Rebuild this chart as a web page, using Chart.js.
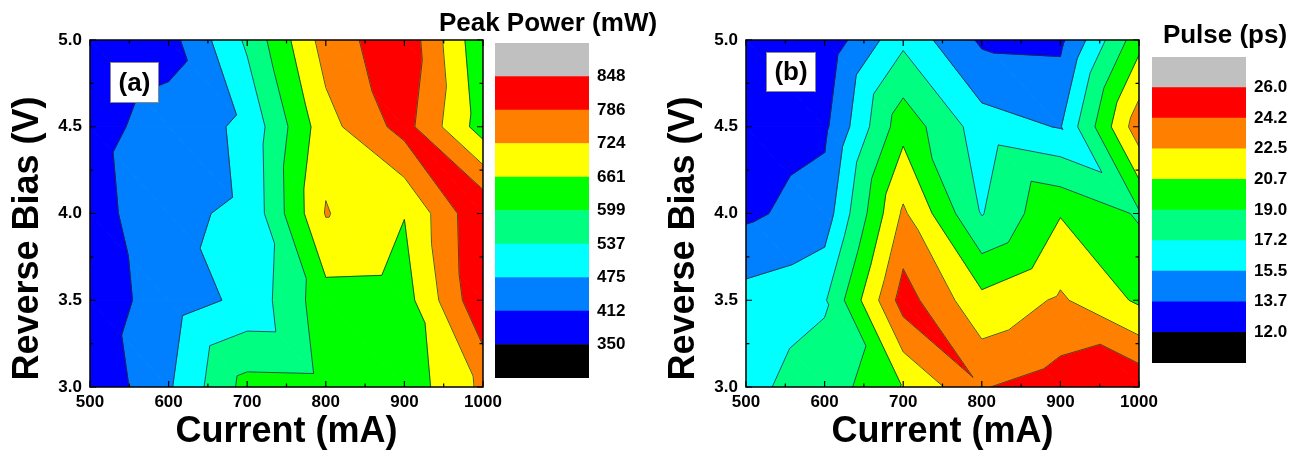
<!DOCTYPE html>
<html><head><meta charset="utf-8">
<script src="https://cdn.jsdelivr.net/npm/chart.js@4.4.1/dist/chart.umd.min.js"></script>
<style>
html,body{margin:0;padding:0;background:#fff;}
#wrap{position:relative;width:1301px;height:457px;overflow:hidden;background:#fff;}
canvas{position:absolute;top:0;}
</style></head><body>
<div id="wrap">
<canvas id="cA" width="520" height="457" style="left:0px"></canvas>
<canvas id="barA" width="245" height="457" style="left:425px"></canvas>
<canvas id="cB" width="520" height="457" style="left:656px"></canvas>
<canvas id="barB" width="201" height="457" style="left:1100px"></canvas>
</div>
<script>
// ---- grid axes ----
const currents = [500, 600, 700, 800, 900, 1000];
const biases = [3.0, 3.5, 4.0, 4.5, 5.0];
const currentTickLabels = ['500', '600', '700', '800', '900', '1000'];
const biasTickLabels = ['3.0', '3.5', '4.0', '4.5', '5.0'];

// ---- (a) peak power (mW), one row per reverse bias ----
const power3p0 = [358, 467, 622, 619, 623, 737];
const power3p5 = [375, 443.5, 490, 637, 634, 840];
const power4p0 = [382, 465, 483.5, 728, 663, 845];
const power4p5 = [390, 438, 488.7, 701, 810, 630];
const power5p0 = [370, 388, 548, 752, 832, 610];

// ---- (b) pulse width (ps), one row per reverse bias ----
const pulse3p0 = [16.8, 18.0, 20.8, 24.1, 25.0, 25.6];
const pulse3p5 = [16.2, 17.0, 25.0, 21.2, 22.76, 20.4];
const pulse4p0 = [13.35, 14.55, 22.8, 17.1, 20.6, 18.8];
const pulse4p5 = [12.6, 13.34, 20.1, 16.3, 15.4, 23.6];
const pulse5p0 = [12.3, 12.4, 16.8, 13.4, 13.3, 20.1];

// ---- contour levels / colour scale ----
const powerLevels = [350, 412, 475, 537, 599, 661, 724, 786, 848];
const powerLevelLabels = ['350', '412', '475', '537', '599', '661', '724', '786', '848'];
const pulseLevels = [12.0, 13.7, 15.5, 17.2, 19.0, 20.7, 22.5, 24.2, 26.0];
const pulseLevelLabels = ['12.0', '13.7', '15.5', '17.2', '19.0', '20.7', '22.5', '24.2', '26.0'];
const bandColors = ['#000000', '#0000FF', '#0080FF', '#00FFFF', '#00FF80', '#00FF00', '#FFFF00', '#FF8000', '#FF0000', '#C0C0C0'];

const powerGrid = [power3p0, power3p5, power4p0, power4p5, power5p0];
const pulseGrid = [pulse3p0, pulse3p5, pulse4p0, pulse4p5, pulse5p0];

Chart.defaults.font.family = '"Liberation Sans", Arial, Helvetica, sans-serif';
Chart.defaults.color = '#000';

function triangles(grid) {
  const tris = [];
  for (let j = 0; j < biases.length - 1; j++) {
    for (let i = 0; i < currents.length - 1; i++) {
      const p00 = {x: currents[i], y: biases[j], v: grid[j][i]};
      const p10 = {x: currents[i + 1], y: biases[j], v: grid[j][i + 1]};
      const p01 = {x: currents[i], y: biases[j + 1], v: grid[j + 1][i]};
      const p11 = {x: currents[i + 1], y: biases[j + 1], v: grid[j + 1][i + 1]};
      tris.push([p00, p10, p01]);
      tris.push([p10, p11, p01]);
    }
  }
  return tris;
}
function clipPoly(poly, level, keepAbove) {
  const out = [];
  const n = poly.length;
  for (let k = 0; k < n; k++) {
    const a = poly[k], b = poly[(k + 1) % n];
    const ain = keepAbove ? a.v >= level : a.v <= level;
    const bin = keepAbove ? b.v >= level : b.v <= level;
    if (ain) out.push(a);
    if (ain !== bin) {
      const t = (level - a.v) / (b.v - a.v);
      out.push({x: a.x + t * (b.x - a.x), y: a.y + t * (b.y - a.y), v: level});
    }
  }
  return out;
}
function bandDatasets(grid, levels) {
  const tris = triangles(grid);
  const sets = [];
  for (let k = 0; k <= levels.length; k++) {
    const data = [];
    for (const t of tris) {
      let p = t;
      if (k > 0) p = clipPoly(p, levels[k - 1], true);
      if (p.length >= 3 && k < levels.length) p = clipPoly(p, levels[k], false);
      if (p.length >= 3) {
        for (const q of p) data.push({x: q.x, y: q.y});
        data.push({x: p[0].x, y: p[0].y});
        data.push({x: p[0].x, y: null});
      }
    }
    if (data.length) {
      sets.push({data, showLine: true, fill: 'shape', backgroundColor: bandColors[k], borderColor: bandColors[k],
        borderWidth: 1, pointRadius: 0, tension: 0, spanGaps: false, order: 1});
    }
  }
  return sets;
}
function contourLineData(grid, levels) {
  const tris = triangles(grid);
  const data = [];
  for (const L of levels) {
    for (const t of tris) {
      const pts = [];
      for (let k = 0; k < 3; k++) {
        const a = t[k], b = t[(k + 1) % 3];
        if ((a.v >= L) !== (b.v >= L)) {
          const s = (L - a.v) / (b.v - a.v);
          pts.push({x: a.x + s * (b.x - a.x), y: a.y + s * (b.y - a.y)});
        }
      }
      if (pts.length === 2) data.push(pts[0], pts[1], {x: pts[1].x, y: null});
    }
  }
  return data;
}

const frameTicks = {
  id: 'frameTicks',
  afterDatasetsDraw(chart, args, o) {
    const {ctx, chartArea: a, scales: {x, y}} = chart;
    const isMajor = (v, m) => Math.abs(v / m - Math.round(v / m)) < 1e-6;
    ctx.save();
    ctx.strokeStyle = '#000';
    ctx.lineWidth = 1.2;
    ctx.beginPath();
    for (let v = x.min; v <= x.max + 1e-9; v += o.xMinor) {
      const px = x.getPixelForValue(v);
      const len = isMajor(v, o.xMajor) ? 6 : 3.5;
      ctx.moveTo(px, a.bottom); ctx.lineTo(px, a.bottom - len);
      ctx.moveTo(px, a.top); ctx.lineTo(px, a.top + len);
    }
    for (let v = y.min; v <= y.max + 1e-9; v += o.yMinor) {
      const py = y.getPixelForValue(v);
      const len = isMajor(v, o.yMajor) ? 6 : 3.5;
      ctx.moveTo(a.left, py); ctx.lineTo(a.left + len, py);
      ctx.moveTo(a.right, py); ctx.lineTo(a.right - len, py);
    }
    ctx.stroke();
    ctx.lineWidth = 1.5;
    ctx.strokeRect(a.left, a.top, a.right - a.left, a.bottom - a.top);
    ctx.restore();
  }
};
const panelTag = {
  id: 'panelTag',
  afterDatasetsDraw(chart, args, o) {
    const {ctx, chartArea: a} = chart;
    const x = a.left + o.dx, y = a.top + o.dy;
    ctx.save();
    ctx.fillStyle = '#fff';
    ctx.fillRect(x, y, o.w, o.h);
    ctx.strokeStyle = '#888';
    ctx.lineWidth = 1;
    ctx.strokeRect(x + 0.5, y + 0.5, o.w - 1, o.h - 1);
    ctx.fillStyle = '#000';
    ctx.font = 'bold 26px "Liberation Sans", Arial, sans-serif';
    ctx.textAlign = 'center';
    ctx.textBaseline = 'middle';
    ctx.fillText(o.text, x + o.w / 2, y + o.h / 2 + 1);
    ctx.restore();
  }
};
const heading = {
  id: 'heading',
  afterDraw(chart, args, o) {
    const {ctx, chartArea: a} = chart;
    ctx.save();
    ctx.fillStyle = '#000';
    ctx.font = 'bold 26px "Liberation Sans", Arial, sans-serif';
    ctx.textAlign = 'center';
    ctx.textBaseline = 'alphabetic';
    ctx.fillText(o.text, a.left + o.dx, o.baseline);
    ctx.restore();
  }
};

function contourChart(id, grid, levels, tag) {
  return new Chart(document.getElementById(id), {
    type: 'scatter',
    data: {
      datasets: [
        {data: contourLineData(grid, levels), showLine: true, borderColor: '#2b2b2b', borderWidth: 0.8,
          pointRadius: 0, fill: false, tension: 0, spanGaps: false, order: 0},
        ...bandDatasets(grid, levels)
      ]
    },
    options: {
      responsive: false, animation: false, events: [],
      layout: {padding: {left: 0, top: 40, right: 37, bottom: 0}},
      plugins: {
        legend: {display: false}, tooltip: {enabled: false},
        frameTicks: {xMinor: 50, xMajor: 100, yMinor: 0.25, yMajor: 0.5},
        panelTag: tag
      },
      scales: {
        x: {
          type: 'linear', min: 500, max: 1000,
          ticks: {stepSize: 100, autoSkip: false, maxRotation: 0, padding: 5,
            font: {size: 17, weight: 'bold'}, color: '#000',
            callback: (v, i) => currentTickLabels[i]},
          grid: {display: false, drawTicks: false}, border: {display: false},
          title: {display: true, text: 'Current (mA)', color: '#000', font: {size: 36, weight: 'bold'}, padding: {top: 0, bottom: 3}},
          afterFit(s) { s.height = 70; }
        },
        y: {
          type: 'linear', min: 3, max: 5,
          ticks: {stepSize: 0.5, autoSkip: false, padding: 8,
            font: {size: 17, weight: 'bold'}, color: '#000',
            callback: (v, i) => biasTickLabels[i]},
          grid: {display: false, drawTicks: false}, border: {display: false},
          title: {display: true, text: 'Reverse Bias (V)' + '\u00A0'.repeat(5), color: '#000', font: {size: 36, weight: 'bold'}, padding: {top: 6, bottom: 0}},
          afterFit(s) { s.width = 90; }
        }
      }
    },
    plugins: [frameTicks, panelTag]
  });
}

function colorbarChart(id, levelLabels, pad, axisW, head) {
  const datasets = bandColors.map((c) => ({data: [1], backgroundColor: c, borderWidth: 0, barPercentage: 1, categoryPercentage: 1}));
  return new Chart(document.getElementById(id), {
    type: 'bar',
    data: {labels: [''], datasets},
    options: {
      responsive: false, animation: false, events: [],
      layout: {padding: pad},
      plugins: {legend: {display: false}, tooltip: {enabled: false}, heading: head},
      scales: {
        x: {display: false, stacked: true},
        y: {
          stacked: true, position: 'right', min: 0, max: 10,
          ticks: {stepSize: 1, autoSkip: false, padding: 8, font: {size: 17, weight: 'bold'}, color: '#000',
            callback: (v) => (v >= 1 && v <= 9) ? levelLabels[v - 1] : ''},
          grid: {display: false, drawTicks: false}, border: {display: false},
          afterFit(s) { s.width = axisW; }
        }
      }
    },
    plugins: [heading]
  });
}

contourChart('cA', powerGrid, powerLevels, {text: '(a)', dx: 20, dy: 22, w: 49, h: 41});
contourChart('cB', pulseGrid, pulseLevels, {text: '(b)', dx: 20, dy: 12, w: 50, h: 40});
colorbarChart('barA', powerLevelLabels, {left: 70, top: 43, bottom: 79, right: 0}, 81, {text: 'Peak Power (mW)', dx: 53, baseline: 31});
colorbarChart('barB', pulseLevelLabels, {left: 52, top: 57, bottom: 94, right: 0}, 55, {text: 'Pulse (ps)', dx: 73, baseline: 43});
</script>
</body></html>
